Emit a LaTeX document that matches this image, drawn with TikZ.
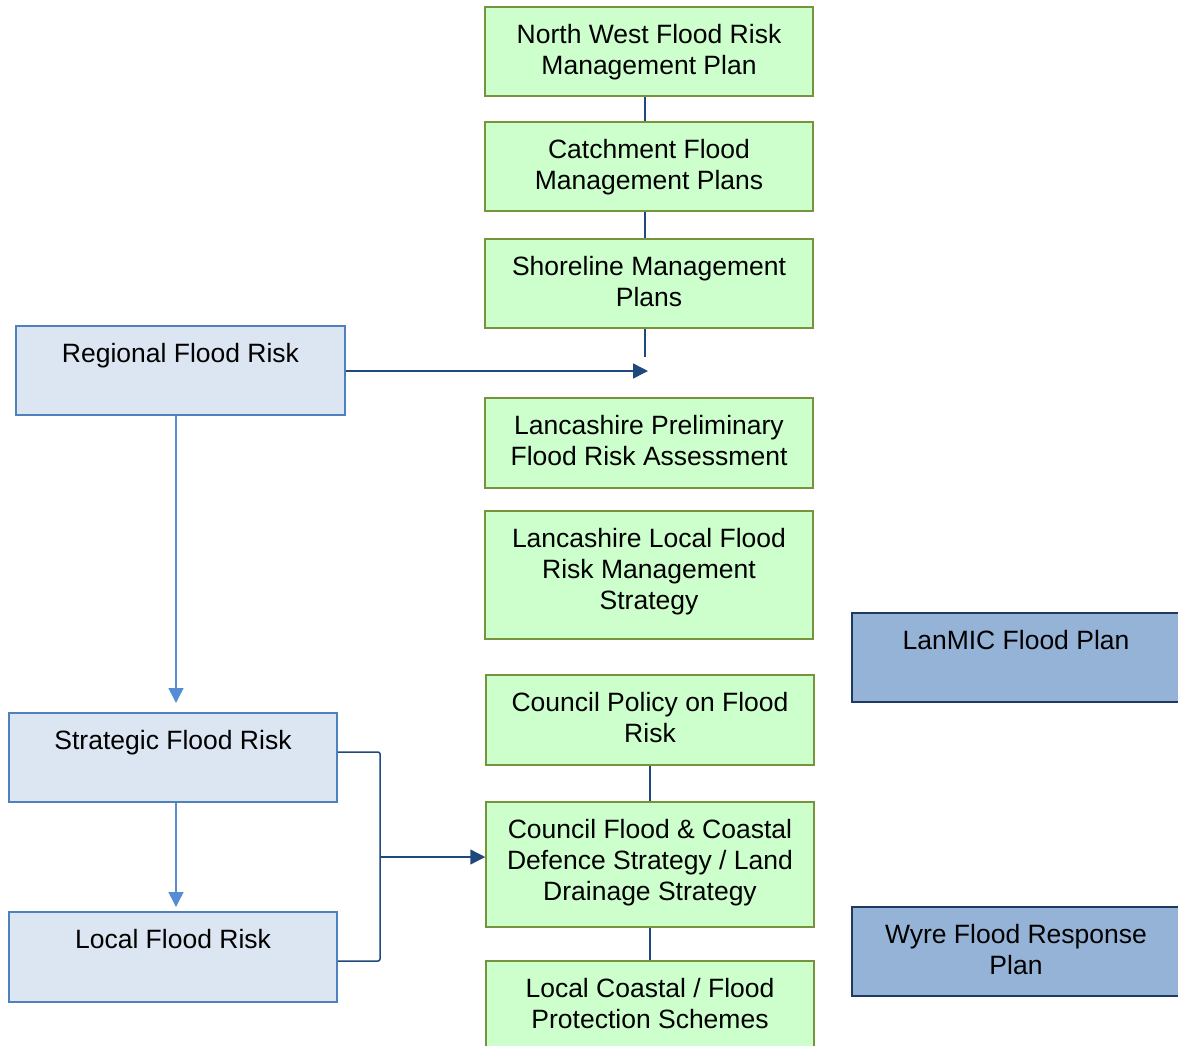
\documentclass[tikz,border=0pt]{standalone}
\usepackage{fontspec}
\setmainfont{Liberation Sans}
\usepackage{tikz}
\usetikzlibrary{arrows.meta}
\definecolor{planfill}{HTML}{CCFFCC}
\definecolor{planedge}{HTML}{77933C}
\definecolor{riskfill}{HTML}{DCE6F2}
\definecolor{riskedge}{HTML}{4F81BD}
\definecolor{respfill}{HTML}{95B3D7}
\definecolor{respedge}{HTML}{1F3A60}
\definecolor{linkdark}{HTML}{1F497D}
\definecolor{linklight}{HTML}{558ED5}

\begin{document}
\begin{tikzpicture}[x=1pt,y=-1pt,
    planbox/.style={draw=planedge,fill=planfill,line width=1.5pt,minimum width=328pt,inner sep=0pt},
    riskbox/.style={draw=riskedge,fill=riskfill,line width=1.5pt,minimum width=329pt,minimum height=89pt,inner sep=0pt},
    respbox/.style={draw=respedge,fill=respfill,line width=1.5pt,minimum width=328pt,minimum height=89pt,inner sep=0pt},
    boxtext/.style={anchor=north,align=center,inner sep=0pt,yshift=-17.5pt,font=\fontsize{26.5}{31}\selectfont},
    link/.style={draw=linkdark,line width=1.5pt},
    linkarrow/.style={link,-{Triangle[length=15pt,width=15pt]}},
    lightarrow/.style={draw=linklight,line width=1.5pt,-{Triangle[length=15pt,width=15pt]}}]
    \useasboundingbox (0,0) rectangle (1178,1045);

    % plans column
    \node[planbox,minimum height=89pt] (nwplan) at (649,51.5) {};
    \node[boxtext] (nwplan-t) at (nwplan.north) {North West Flood Risk\\Management Plan};
    \node[planbox,minimum height=89pt] (cfmp) at (649,166.5) {};
    \node[boxtext] (cfmp-t) at (cfmp.north) {Catchment Flood\\Management Plans};
    \node[planbox,minimum height=89pt] (smp) at (649,283.5) {};
    \node[boxtext] (smp-t) at (smp.north) {Shoreline Management\\Plans};
    \node[planbox,minimum height=90pt] (pfra) at (649,443) {};
    \node[boxtext] (pfra-t) at (pfra.north) {Lancashire Preliminary\\Flood Risk Assessment};
    \node[planbox,minimum height=128pt] (lfrms) at (649,575) {};
    \node[boxtext] (lfrms-t) at (lfrms.north) {Lancashire Local Flood\\Risk Management\\Strategy};
    \node[planbox,minimum height=90pt] (policy) at (650,720) {};
    \node[boxtext] (policy-t) at (policy.north) {Council Policy on Flood\\Risk};
    \node[planbox,minimum height=125pt] (cfds) at (650,864.5) {};
    \node[boxtext] (cfds-t) at (cfds.north) {Council Flood \& Coastal\\Defence Strategy / Land\\Drainage Strategy};
    \node[planbox,minimum height=95pt] (schemes) at (650,1008.5) {};
    \node[boxtext] (schemes-t) at (schemes.north) {Local Coastal / Flood\\Protection Schemes};

    % risk levels
    \node[riskbox] (regional) at (180.5,370.5) {};
    \node[boxtext] (regional-t) at (regional.north) {Regional Flood Risk};
    \node[riskbox,minimum width=328pt] (strategic) at (173,757.5) {};
    \node[boxtext] (strategic-t) at (strategic.north) {Strategic Flood Risk};
    \node[riskbox,minimum width=328pt,minimum height=90pt] (local) at (173,957) {};
    \node[boxtext] (local-t) at (local.north) {Local Flood Risk};

    % response plans
    \node[respbox] (lanmic) at (1016,657.5) {};
    \node[boxtext] (lanmic-t) at (lanmic.north) {LanMIC Flood Plan};
    \node[respbox] (wyre) at (1016,951.5) {};
    \node[boxtext] (wyre-t) at (wyre.north) {Wyre Flood Response\\Plan};

    % links
    \draw[link] ([xshift=-4pt]nwplan.south) -- ([xshift=-4pt]cfmp.north);
    \draw[link] ([xshift=-4pt]cfmp.south) -- ([xshift=-4pt]smp.north);
    \coordinate (smp-end) at (645,357);
    \draw[link] (smp.south -| smp-end) -- (smp-end);
    \coordinate (regional-tip) at (648,371);
    \draw[linkarrow] (regional.east |- regional-tip) -- (regional-tip);
    \draw[link] (policy) -- (cfds);
    \draw[link] (cfds) -- (schemes);

    \coordinate (strategic-tip) at (176,703);
    \draw[lightarrow] (regional.south -| strategic-tip) -- (strategic-tip);
    \coordinate (local-tip) at (176,907);
    \draw[lightarrow] (strategic.south -| local-tip) -- (local-tip);

    \coordinate (brk-top) at (380,752);
    \coordinate (brk-bot) at (380,961);
    \coordinate (brk-mid) at (380,857);
    \draw[link,rounded corners=2pt] (strategic.east |- brk-top) -- (brk-top) -- (brk-bot) -- (local.east |- brk-bot);
    \draw[linkarrow] (brk-mid) -- (cfds.west |- brk-mid);
\end{tikzpicture}
\end{document}
